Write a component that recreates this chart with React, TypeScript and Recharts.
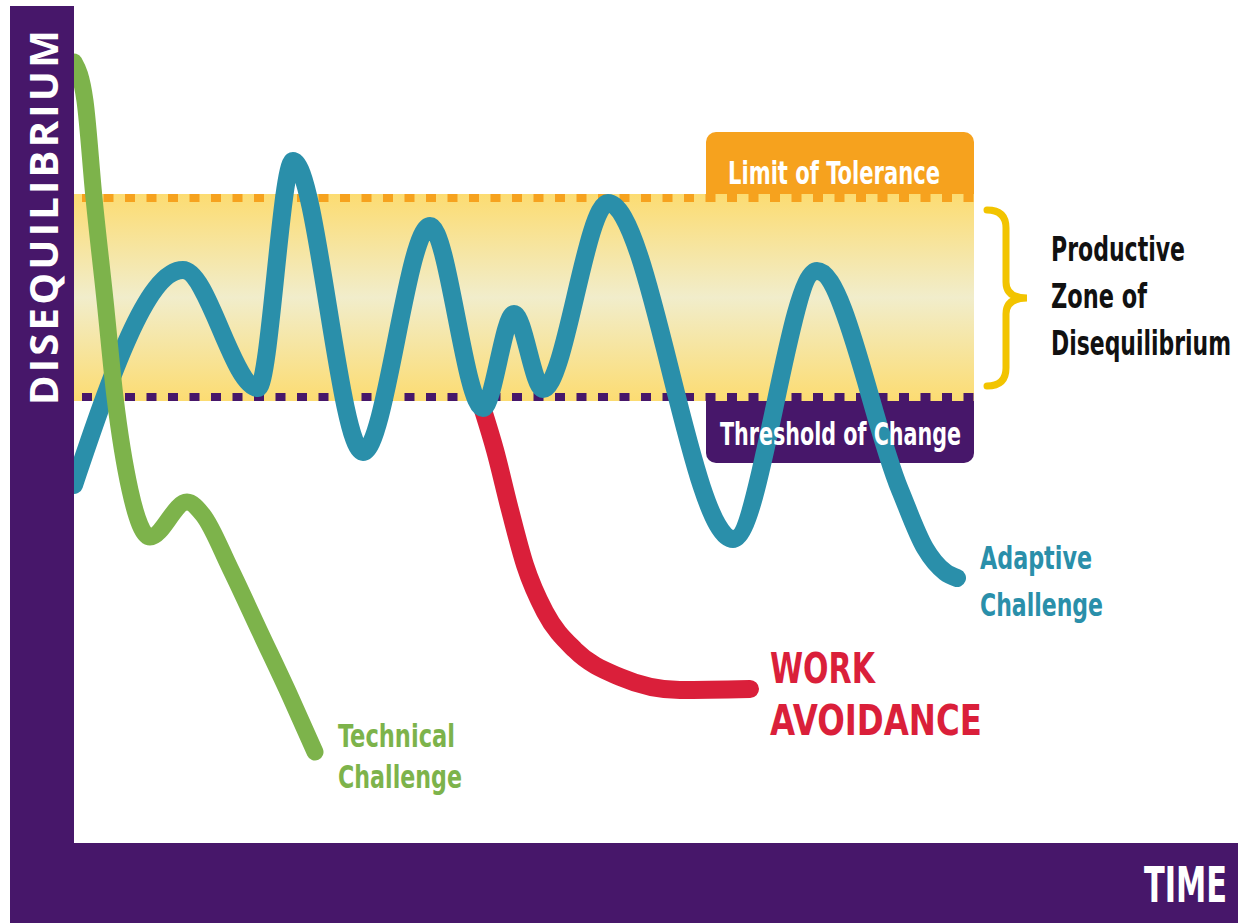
import {
  ComposedChart,
  Line,
  XAxis,
  YAxis,
  ReferenceArea,
  ReferenceLine,
} from 'recharts'

// time runs 0..1164 along the bottom axis, disequilibrium 0..843 up the side
const technicalChallenge = [
  { t: 0, d: 781 },
  { t: 11, d: 742 },
  { t: 20, d: 645 },
  { t: 31, d: 543 },
  { t: 41, d: 446 },
  { t: 56, d: 353 },
  { t: 76, d: 306 },
  { t: 113, d: 341 },
  { t: 129, d: 328 },
  { t: 156, d: 275 },
  { t: 186, d: 211 },
  { t: 216, d: 147 },
  { t: 241, d: 91 },
]

const adaptiveChallenge = [
  { t: 0, d: 358 },
  { t: 109, d: 573 },
  { t: 184, d: 455 },
  { t: 219, d: 682 },
  { t: 289, d: 391 },
  { t: 356, d: 617 },
  { t: 409, d: 435 },
  { t: 440, d: 529 },
  { t: 469, d: 454 },
  { t: 534, d: 640 },
  { t: 659, d: 304 },
  { t: 743, d: 572 },
  { t: 826, d: 353 },
  { t: 851, d: 295 },
  { t: 871, d: 271 },
  { t: 883, d: 265 },
]

const workAvoidance = [
  { t: 409, d: 433 },
  { t: 421, d: 393 },
  { t: 436, d: 333 },
  { t: 451, d: 278 },
  { t: 471, d: 231 },
  { t: 501, d: 193 },
  { t: 546, d: 166 },
  { t: 606, d: 153 },
  { t: 676, d: 154 },
]

const thresholdOfChange = 446
const limitOfTolerance = 645
const zoneEnd = 900

const PURPLE = '#47176A'
const ORANGE = '#F6A21E'
const BLUE = '#2A8FAA'
const GREEN = '#7DB34B'
const RED = '#DA1F3A'
const NARROW = "'Liberation Sans Narrow', 'DejaVu Sans Condensed', 'Roboto', sans-serif"

// k squeezes the glyphs horizontally, len is the width they should end up with
const labels = [
  { text: 'Limit of Tolerance', x: 728, y: 184, len: 212, size: 32, fill: '#fff', k: 0.75 },
  { text: 'Threshold of Change', x: 720, y: 445, len: 241, size: 32, fill: '#fff', k: 0.75 },
  { text: 'Productive', x: 1051, y: 261, len: 134, size: 33, fill: '#111', k: 0.75 },
  { text: 'Zone of', x: 1051, y: 308, len: 96, size: 33, fill: '#111', k: 0.75 },
  { text: 'Disequilibrium', x: 1051, y: 355, len: 180, size: 33, fill: '#111', k: 0.74 },
  { text: 'Technical', x: 338, y: 747, len: 117, size: 32, fill: GREEN, k: 0.75 },
  { text: 'Challenge', x: 338, y: 788, len: 124, size: 32, fill: GREEN, k: 0.75 },
  { text: 'Adaptive', x: 980, y: 569, len: 112, size: 32, fill: BLUE, k: 0.75 },
  { text: 'Challenge', x: 980, y: 616, len: 123, size: 32, fill: BLUE, k: 0.75 },
  { text: 'WORK', x: 770, y: 683, len: 105, size: 42, fill: RED, k: 0.75 },
  { text: 'AVOIDANCE', x: 770, y: 735, len: 212, size: 42, fill: RED, k: 0.75 },
  { text: 'TIME', x: 1144, y: 902, len: 83, size: 49, fill: '#fff', k: 0.7 },
]

export default function App() {
  return (
    <div
      style={{
        position: 'absolute',
        left: 0,
        top: 0,
        width: 1238,
        height: 923,
        background: '#fff',
        overflow: 'hidden',
      }}
    >
      <svg width={0} height={0} style={{ position: 'absolute' }}>
        <defs>
          <linearGradient id="zoneFill" x1="0" y1="0" x2="0" y2="1">
            <stop offset="0%" stopColor="#FCDC72" />
            <stop offset="50%" stopColor="#F1EDCB" />
            <stop offset="100%" stopColor="#FCDC72" />
          </linearGradient>
        </defs>
      </svg>
      <ComposedChart
        width={1238}
        height={923}
        margin={{ top: 0, right: 0, bottom: 0, left: 0 }}
      >
        <XAxis type="number" dataKey="t" domain={[-74, 1164]} hide allowDataOverflow />
        <YAxis type="number" dataKey="d" domain={[-80, 843]} hide allowDataOverflow />

        {/* productive zone */}
        <ReferenceArea
          x1={0}
          x2={zoneEnd}
          y1={thresholdOfChange - 4}
          y2={limitOfTolerance + 4}
          fill="url(#zoneFill)"
          fillOpacity={1}
          stroke="none"
          zIndex={100}
        />
        <ReferenceArea
          x1={632}
          x2={zoneEnd}
          y1={limitOfTolerance + 4}
          y2={711}
          fill={ORANGE}
          fillOpacity={1}
          stroke="none"
          radius={[10, 10, 0, 0]}
          zIndex={110}
        />
        <ReferenceArea
          x1={632}
          x2={zoneEnd}
          y1={380}
          y2={thresholdOfChange - 4}
          fill={PURPLE}
          fillOpacity={1}
          stroke="none"
          radius={[0, 0, 10, 10]}
          zIndex={110}
        />
        <ReferenceLine
          segment={[
            { x: 8, y: limitOfTolerance },
            { x: zoneEnd, y: limitOfTolerance },
          ]}
          stroke={ORANGE}
          strokeWidth={8}
          strokeDasharray="10 11.5"
          zIndex={120}
        />
        <ReferenceLine
          segment={[
            { x: 8, y: thresholdOfChange },
            { x: zoneEnd, y: thresholdOfChange },
          ]}
          stroke={PURPLE}
          strokeWidth={8}
          strokeDasharray="10 11.5"
          zIndex={120}
        />

        <Line
          data={workAvoidance}
          dataKey="d"
          type="monotone"
          stroke={RED}
          strokeWidth={18}
          strokeLinecap="round"
          dot={false}
          activeDot={false}
          isAnimationActive={false}
          zIndex={400}
        />
        <Line
          data={adaptiveChallenge}
          dataKey="d"
          type="monotone"
          stroke={BLUE}
          strokeWidth={18}
          strokeLinecap="round"
          dot={false}
          activeDot={false}
          isAnimationActive={false}
          zIndex={410}
        />
        <Line
          data={technicalChallenge}
          dataKey="d"
          type="monotone"
          stroke={GREEN}
          strokeWidth={17}
          strokeLinecap="round"
          dot={false}
          activeDot={false}
          isAnimationActive={false}
          zIndex={420}
        />

        {/* the two thick axes */}
        <ReferenceArea
          x1={-64}
          x2={0}
          y1={-80}
          y2={837}
          fill={PURPLE}
          fillOpacity={1}
          stroke="none"
          zIndex={900}
        />
        <ReferenceArea
          x1={-64}
          x2={1164}
          y1={-80}
          y2={0}
          fill={PURPLE}
          fillOpacity={1}
          stroke="none"
          zIndex={900}
        />
      </ComposedChart>

      <svg
        width={1238}
        height={923}
        style={{ position: 'absolute', left: 0, top: 0, pointerEvents: 'none' }}
      >
        <path
          d="M 987 210 Q 1006 210 1006 228 L 1006 282 Q 1006 298 1027 298 Q 1006 298 1006 314 L 1006 368 Q 1006 386 987 386"
          fill="none"
          stroke="#F2C400"
          strokeWidth={7}
          strokeLinecap="round"
        />
        <text
          transform="translate(58, 405) rotate(-90)"
          fontFamily="'Open Sans', 'DejaVu Sans', sans-serif"
          fontWeight={700}
          fontSize={40}
          fill="#fff"
          textLength={375}
          lengthAdjust="spacing"
        >
          DISEQUILIBRIUM
        </text>
        {labels.map((l) => (
          <text
            key={l.text + l.y}
            transform={`translate(${l.x}, ${l.y}) scale(${l.k}, 1)`}
            fontFamily={NARROW}
            fontWeight={700}
            fontSize={l.size}
            fill={l.fill}
            textLength={l.len / l.k}
            lengthAdjust="spacingAndGlyphs"
          >
            {l.text}
          </text>
        ))}
      </svg>
    </div>
  )
}
